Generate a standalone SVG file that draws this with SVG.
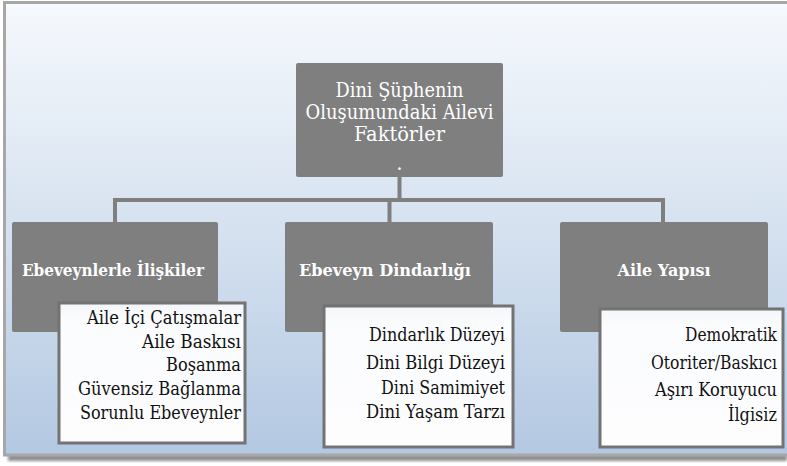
<svg xmlns="http://www.w3.org/2000/svg" width="787" height="466" viewBox="0 0 787 466">
  <defs>
    <linearGradient id="bg" x1="0" y1="0" x2="0" y2="1">
      <stop offset="0" stop-color="#f6f9fd"/>
      <stop offset="0.45" stop-color="#d9e4f1"/>
      <stop offset="1" stop-color="#b3c8e2"/>
    </linearGradient>
    <linearGradient id="sub" x1="0" y1="0" x2="0" y2="1">
      <stop offset="0" stop-color="#f3f5f8"/>
      <stop offset="0.12" stop-color="#fbfcfe"/>
      <stop offset="1" stop-color="#fdfdfe"/>
    </linearGradient>
    <filter id="shadow" x="-5%" y="-5%" width="110%" height="120%">
      <feGaussianBlur stdDeviation="1.5"/>
    </filter>
  </defs>
  <style>
    text { font-family: 'DejaVu Serif', 'Liberation Serif', serif; }
    .node { fill: #7f7f7f; }
    .title { fill: #ffffff; text-anchor: middle; }
    .main { font-size: 20px; }
    .head { font-size: 17px; font-weight: bold; }
    .subbox { fill: url(#sub); stroke: #737373; stroke-width: 3; }
    .item { font-size: 18px; fill: #111111; text-anchor: end; }
    .itemL { font-size: 18px; fill: #111111; text-anchor: start; }
    .conn { stroke: #7f7f7f; stroke-width: 4; fill: none; stroke-linecap: square; }
  </style>

  <rect x="8" y="454" width="779" height="7" fill="#8f8f8f" filter="url(#shadow)"/>
  <rect x="4.5" y="2.5" width="782.5" height="452.5" fill="url(#bg)"/>
  <path d="M787,2.5 H4.5 V455 H787" fill="none" stroke="#a7a7a7" stroke-width="3"/>

  <g id="connectors">
    <line class="conn" x1="399.5" y1="178" x2="399.5" y2="199"/>
    <line class="conn" x1="115" y1="200" x2="663" y2="200"/>
    <line class="conn" x1="115" y1="200" x2="115" y2="221"/>
    <line class="conn" x1="389.5" y1="200" x2="389.5" y2="221"/>
    <line class="conn" x1="663" y1="200" x2="663" y2="221"/>
  </g>

  <g id="root">
    <rect class="node" x="296" y="63" width="207" height="114" rx="2"/>
    <text class="title main" x="399.5" y="97" textLength="128" lengthAdjust="spacingAndGlyphs">Dini Şüphenin</text>
    <text class="title main" x="399.5" y="119" textLength="188" lengthAdjust="spacingAndGlyphs">Oluşumundaki Ailevi</text>
    <text class="title main" x="399.5" y="141" textLength="91" lengthAdjust="spacingAndGlyphs">Faktörler</text>
    <text class="title main" x="399.5" y="170">.</text>
  </g>

  <g id="ebeveynlerle">
    <rect class="node" x="12" y="222" width="206" height="110" rx="2"/>
    <text class="title head" x="113" y="276" textLength="182" lengthAdjust="spacingAndGlyphs">Ebeveynlerle İlişkiler</text>
    <rect class="subbox" x="59" y="303" width="186" height="140"/>
    <text class="item" x="241" y="324" textLength="154" lengthAdjust="spacingAndGlyphs">Aile İçi Çatışmalar</text>
    <text class="item" x="241" y="348" textLength="99" lengthAdjust="spacingAndGlyphs">Aile Baskısı</text>
    <text class="item" x="241" y="371" textLength="75" lengthAdjust="spacingAndGlyphs">Boşanma</text>
    <text class="item" x="241" y="395" textLength="163" lengthAdjust="spacingAndGlyphs">Güvensiz Bağlanma</text>
    <text class="item" x="241" y="419" textLength="161" lengthAdjust="spacingAndGlyphs">Sorunlu Ebeveynler</text>
  </g>

  <g id="dindarlik">
    <rect class="node" x="285" y="222" width="208" height="110" rx="2"/>
    <text class="title head" x="385" y="276" textLength="172" lengthAdjust="spacingAndGlyphs">Ebeveyn Dindarlığı</text>
    <rect class="subbox" x="324" y="306" width="189" height="141"/>
    <text class="item" x="505" y="341" textLength="136" lengthAdjust="spacingAndGlyphs">Dindarlık Düzeyi</text>
    <text class="item" x="505" y="369" textLength="139" lengthAdjust="spacingAndGlyphs">Dini Bilgi Düzeyi</text>
    <text class="item" x="505" y="394" textLength="124" lengthAdjust="spacingAndGlyphs">Dini Samimiyet</text>
    <text class="item" x="505" y="418" textLength="139" lengthAdjust="spacingAndGlyphs">Dini Yaşam Tarzı</text>
  </g>

  <g id="yapisi">
    <rect class="node" x="560" y="222" width="208" height="110" rx="2"/>
    <text class="title head" x="664" y="276" textLength="93" lengthAdjust="spacingAndGlyphs">Aile Yapısı</text>
    <rect class="subbox" x="600" y="309" width="183" height="138"/>
    <text class="itemL" x="685" y="341" textLength="92" lengthAdjust="spacingAndGlyphs">Demokratik</text>
    <text class="itemL" x="651" y="369" textLength="126" lengthAdjust="spacingAndGlyphs">Otoriter/Baskıcı</text>
    <text class="itemL" x="655" y="396" textLength="122" lengthAdjust="spacingAndGlyphs">Aşırı Koruyucu</text>
    <text class="itemL" x="728" y="421" textLength="49" lengthAdjust="spacingAndGlyphs">İlgisiz</text>
  </g>
</svg>
